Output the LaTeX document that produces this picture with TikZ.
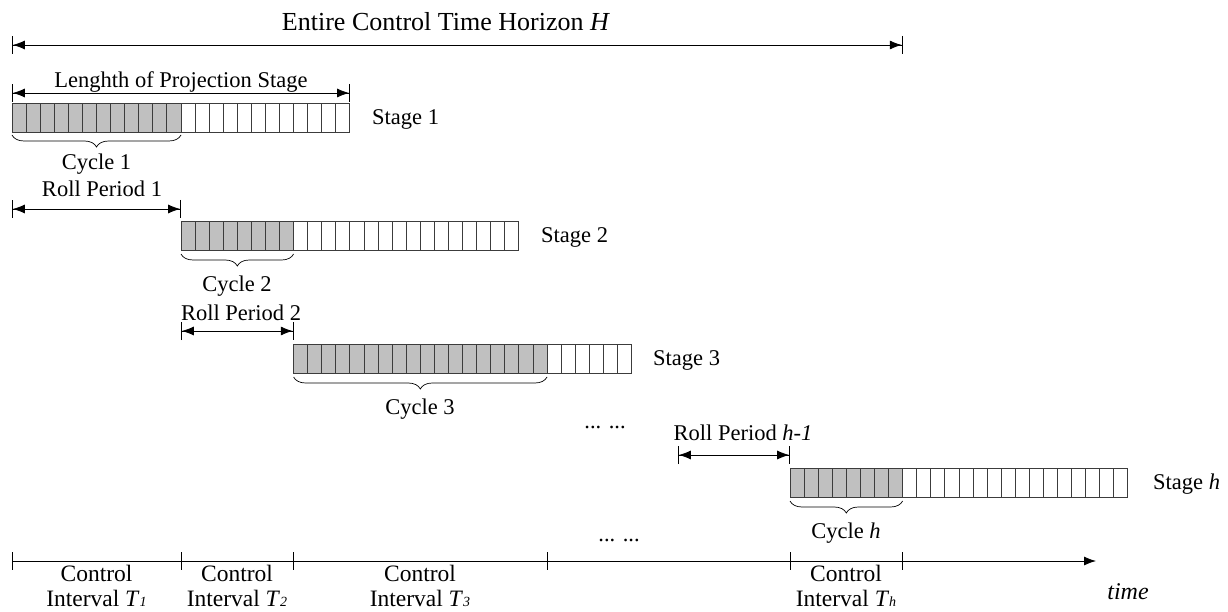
\documentclass[tikz,border=0pt]{standalone}
\usepackage{fontspec}
\setmainfont{Liberation Serif}
\usetikzlibrary{arrows.meta, decorations.pathreplacing, positioning}
\definecolor{cellgray}{RGB}{192,192,192}
\definecolor{linegray}{RGB}{60,60,60}
\newcommand*{\cellw}{14.08}
\newcommand*{\cellh}{29}
% one projection stage: x, y, number of shaded cells
\newcommand*{\stagebar}[3]{%
 \fill[cellgray] (#1,#2) rectangle ++({#3*\cellw},\cellh);
 \foreach \i in {0,...,23} \draw[cellbox] ({#1+\i*\cellw},#2) rectangle ++(\cellw,\cellh);
}
\newcommand*{\ivsub}[1]{{\fontsize{14}{14}\selectfont\textit{#1}}}
\tikzset{
 cellbox/.style={draw=linegray, line width=0.9pt},
 dimarrow/.style={line width=0.8pt, {Bar[width=18pt]Latex[length=12pt,width=9pt]}-{Latex[length=12pt,width=9pt]Bar[width=18pt]}},
 txt/.style={font=\fontsize{22.5}{23}\selectfont, inner sep=0pt},
 ctl/.style={font=\fontsize{23.5}{25}\selectfont, inner sep=0pt, align=center, anchor=north},
 brc/.style={decorate, decoration={brace, mirror, amplitude=12pt}, line width=0.7pt},
}

\begin{document}
\begin{tikzpicture}[x=1pt,y=-1pt]
 \useasboundingbox (0,0) rectangle (1228,612);

 \stagebar{12}{103}{12}
 \stagebar{180.96}{221}{8}
 \stagebar{293.6}{344}{18}
 \stagebar{790}{468}{8}

 \node[txt, font=\fontsize{26}{28}\selectfont] (hzn) at (446,22) {Entire Control Time Horizon \textit{H}};
 \coordinate (hzL) at (12,45);
 \coordinate (hzR) at (902.6,45);
 \draw[dimarrow] (hzL) -- (hzR);

 \node[txt] (len) at (181,82) {Lenghth of Projection Stage};
 \coordinate (lenL) at (12,93);
 \coordinate (lenR) at (349.9,93);
 \draw[dimarrow] (lenL) -- (lenR);

 \node[txt, anchor=west] (st1) at (372,119) {Stage 1};
 \node[txt, anchor=west] (st2) at (541,237) {Stage 2};
 \node[txt, anchor=west] (st3) at (653,360) {Stage 3};
 \node[txt, anchor=west] (sth) at (1153,484) {Stage \textit{h}};

 \draw[brc] (12,135) -- (181,135);
 \node[txt] (cyc1) at (96.5,164) {Cycle 1};
 \draw[brc] (181,254) -- (293.6,254);
 \node[txt] (cyc2) at (237,286) {Cycle 2};
 \draw[brc] (293.6,377) -- (547,377);
 \node[txt] (cyc3) at (420,409) {Cycle 3};
 \draw[brc] (790,501) -- (902.6,501);
 \node[txt] (cych) at (846,533) {Cycle \textit{h}};

 \node[txt] (rp1) at (102,189) {Roll Period 1};
 \coordinate (rp1L) at (12,209);
 \coordinate (rp1R) at (181,209);
 \draw[dimarrow] (rp1L) -- (rp1R);
 \node[txt] (rp2) at (241,313) {Roll Period 2};
 \coordinate (rp2L) at (181,331);
 \coordinate (rp2R) at (293.6,331);
 \draw[dimarrow] (rp2L) -- (rp2R);
 \node[txt] (rph) at (743,433) {Roll Period \textit{h-1}};
 \coordinate (rphL) at (678,455);
 \coordinate (rphR) at (790,455);
 \draw[dimarrow] (rphL) -- (rphR);

 \node[txt] (dots1) at (605,427) {... ...};
 \node[txt] (dots2) at (619,540) {... ...};

 % time axis
 \coordinate (t0) at (12,561);
 \coordinate (t1) at (181,561);
 \coordinate (t2) at (293.6,561);
 \coordinate (t3) at (547,561);
 \coordinate (t4) at (790,561);
 \coordinate (t5) at (902.6,561);
 \coordinate (tend) at (1096,561);
 \draw[line width=0.8pt, -{Latex[length=12pt,width=9pt]}] (t0) -- (tend);
 \foreach \t in {t0,t1,t2,t3,t4,t5}
  \draw[line width=0.8pt] (\t) ++(0,-9) -- ++(0,18);
 \node[ctl] (ci1) at (96.5,565) {Control\\Interval \textit{T}\ivsub{1}};
 \node[ctl] (ci2) at (237,565) {Control\\Interval \textit{T}\ivsub{2}};
 \node[ctl] (ci3) at (420,565) {Control\\Interval \textit{T}\ivsub{3}};
 \node[ctl] (cih) at (846,565) {Control\\Interval \textit{T}\ivsub{h}};
 \node[txt, font=\fontsize{24}{26}\selectfont] (tlab) at (1128,592) {\textit{time}};
\end{tikzpicture}
\end{document}
